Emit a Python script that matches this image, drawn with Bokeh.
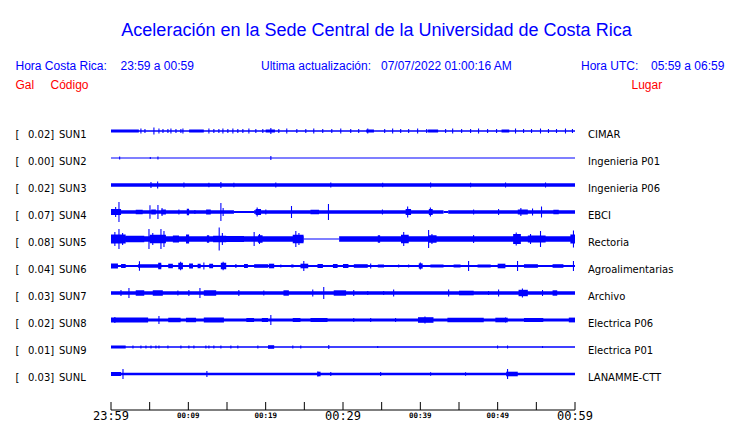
from bokeh.plotting import figure
from bokeh.models import Range1d, ColumnDataSource
from bokeh.core.properties import value
from bokeh.embed import file_html
from bokeh.resources import INLINE

# ---------------- data ----------------
CODES = ["SUN1", "SUN2", "SUN3", "SUN4", "SUN5", "SUN6", "SUN7", "SUN8", "SUN9", "SUNL"]
PLACES = ["CIMAR", "Ingenieria P01", "Ingenieria P06", "EBCI", "Rectoria",
          "Agroalimentarias", "Archivo", "Electrica P06", "Electrica P01", "LANAMME-CTT"]
GAL = [0.02, 0.00, 0.02, 0.07, 0.08, 0.04, 0.03, 0.02, 0.01, 0.03]

TICKS = [0, 5, 10, 15, 20, 25, 30, 35, 40, 45, 50, 55, 60]          # minutes after 23:59
BIG_TICK_POS = [0, 30, 60]
BIG_TICK_LABELS = ["23:59", "00:29", "00:59"]
SMALL_TICK_POS = [10, 20, 40, 50]
SMALL_TICK_LABELS = ["00:09", "00:19", "00:39", "00:49"]

TITLE = "Aceleración en la Sede Central de la Universidad de Costa Rica"
LOCAL_LABEL, LOCAL_RANGE = "Hora Costa Rica:", "23:59 a 00:59"
UPDATE_LABEL, UPDATE_TIME = "Ultima actualización:", "07/07/2022 01:00:16 AM"
UTC_LABEL, UTC_RANGE = "Hora UTC:", "05:59 a 06:59"

# envelopes: base (t0, t1, half-amplitude), bursts (t0, t1, half-amp), spikes (t, half-amp)
SUN1_BASE = [(0.0, 60.0, 0.8)]
SUN1_BURSTS = [(0.0, 3.6, 1.5), (10.1, 12.0, 1.5), (20.0, 21.2, 1.4), (33.0, 34.0, 1.4),
               (41.0, 42.3, 1.5), (50.5, 51.5, 1.4)]
SUN1_SPIKES = [(3.87, 2.5), (4.39, 2), (5.55, 3.5), (6.2, 2.5), (6.72, 2), (7.36, 2), (7.75, 2.5),
               (8.4, 2), (9.04, 2), (9.3, 2.5), (12.66, 2.5), (13.3, 2), (13.95, 2), (14.47, 2.5),
               (15.11, 2), (15.76, 2.5), (16.4, 2), (17.05, 2), (17.83, 2.5), (18.73, 2), (19.63, 2),
               (20.67, 3), (21.7, 2), (22.73, 2.5), (24.03, 2), (25.19, 2), (26.22, 2.5), (27.38, 2),
               (28.55, 2), (29.71, 2.5), (31.0, 2), (32.03, 2), (33.2, 2.5), (35.39, 2), (36.42, 2.5),
               (37.46, 2), (38.49, 2), (39.65, 2.5), (40.82, 2), (43.27, 2), (44.18, 2.5), (45.34, 2),
               (46.5, 2), (47.53, 2.5), (48.7, 2), (49.86, 2), (52.31, 2.5), (53.35, 2), (54.38, 2),
               (55.54, 2.5), (56.57, 2), (57.61, 2), (58.77, 2.5), (59.67, 2)]

SUN2_BASE = [(0.0, 60.0, 0.5)]
SUN2_BURSTS = []
SUN2_SPIKES = [(1.12, 1.5), (5.08, 1.0), (6.07, 1.5), (20.67, 2.0)]

SUN3_BASE = [(0.0, 60.0, 1.8)]
SUN3_BURSTS = []
SUN3_SPIKES = [(5.17, 3), (6.03, 3.5), (9.43, 2.5), (12.66, 2.3), (14.21, 3), (15.89, 2.3),
               (21.31, 2.5), (28.42, 2.5), (35.13, 2.3), (41.33, 2.5), (46.5, 2.3), (51.02, 2.5),
               (56.19, 2.5)]

SUN4_BASE = [(0.0, 15.9, 1.7), (15.9, 18.5, 1.0), (18.5, 43.0, 1.7), (43.0, 43.6, 1.0),
             (43.6, 60.0, 1.7)]
SUN4_BURSTS = [(0.0, 1.3, 3.0), (3.2, 4.1, 2.3), (5.2, 5.8, 2.6), (6.5, 7.1, 2.6), (9.8, 10.1, 3.2),
               (12.3, 12.9, 2.6), (18.7, 19.4, 3.0), (25.8, 26.9, 2.3), (38.1, 38.8, 3.0),
               (41.1, 41.6, 3.0), (52.6, 53.9, 2.6), (57.2, 57.9, 2.3)]
SUN4_SPIKES = [(0.6, 5), (1.03, 10), (5.04, 6.7), (6.07, 7), (6.6, 4), (8.78, 2.5), (10.85, 2),
               (14.21, 9), (14.5, 4), (20.02, 2.5), (18.9, 4.5), (23.34, 6), (28.12, 8), (35.1, 2.5),
               (38.36, 5.5), (41.3, 4.5), (46.89, 2.5), (50.12, 3), (53.0, 4), (54.51, 3.5),
               (55.67, 5.5)]

SUN5_BASE = [(0.0, 24.9, 2.7), (24.9, 29.5, 0.5), (29.5, 60.0, 2.7)]
SUN5_BURSTS = [(0.0, 1.9, 4.5), (1.9, 4.3, 3.3), (5.0, 7.1, 4.3), (8.0, 8.8, 3.5), (9.7, 10.1, 4.5),
               (12.4, 12.7, 3.8), (13.2, 14.9, 3.3), (14.5, 17.2, 3.1), (19.0, 19.6, 3.8),
               (23.5, 24.9, 4.3), (34.5, 34.8, 3.8), (37.5, 38.5, 4.3), (41.1, 42.1, 3.8),
               (52.0, 53.0, 5), (53.9, 56.2, 3.6), (59.4, 60.0, 4.5)]
SUN5_SPIKES = [(0.5, 7), (1.03, 10), (1.5, 6), (4.91, 10), (5.4, 6), (6.46, 10), (6.85, 8),
               (13.99, 11.5), (14.4, 6), (18.51, 7), (19.2, 5), (23.9, 8), (24.3, 6), (37.85, 7),
               (41.07, 9), (41.5, 5), (46.89, 4), (52.4, 6.5), (54.25, 5), (55.54, 8), (59.8, 8.5)]

SUN6_BASE = [(0.0, 60.0, 1.0)]
SUN6_BURSTS = [(0.0, 0.9, 2.5), (1.3, 1.9, 2), (3.5, 6.5, 1.8), (6.1, 6.5, 3.2), (7.4, 8.0, 2.3),
               (8.7, 9.3, 3.2), (10.1, 10.6, 2.6), (11.2, 11.6, 2.3), (12.7, 13.2, 2.3),
               (14.2, 14.9, 3.2), (17.2, 17.7, 2), (18.5, 20.3, 1.8), (20.4, 21.1, 2.3),
               (23.3, 23.6, 1.5), (24.5, 25.5, 2.3), (26.7, 27.4, 2), (28.7, 29.3, 2), (30.0, 30.7, 2),
               (31.4, 33.2, 1.8), (34.5, 35.3, 1.5), (39.8, 40.3, 2.6), (41.3, 43.0, 1.5),
               (44.3, 45.2, 1.5), (47.4, 49.1, 1.5), (50.0, 51.0, 2.3), (53.4, 55.2, 1.8),
               (57.1, 58.5, 1.8)]
SUN6_SPIKES = [(3.68, 4.7), (9.0, 4.2), (12.01, 3.5), (14.5, 4.2), (16.15, 2), (21.96, 1.5),
               (24.93, 5), (33.58, 2.5), (37.2, 1.5), (38.49, 1.5), (40.0, 3.5), (46.24, 5),
               (52.57, 5), (59.8, 5)]

SUN7_BASE = [(0.0, 60.0, 1.7)]
SUN7_BURSTS = [(3.2, 4.3, 2.7), (5.4, 6.7, 2.7), (12.0, 13.6, 2.7), (22.3, 23.0, 2.7),
               (28.8, 30.4, 2.7), (45.0, 46.9, 2.3), (52.7, 53.9, 3.2), (57.1, 57.7, 2.7)]
SUN7_SPIKES = [(1.29, 3), (2.32, 5), (8.65, 2.5), (10.07, 3), (11.5, 5), (16.53, 3), (19.76, 2.5),
               (26.09, 3.5), (27.51, 6), (31.39, 3), (33.2, 2), (35.26, 2), (36.55, 3.5),
               (43.66, 3.5), (48.82, 2), (50.12, 3.5), (53.2, 4.5), (55.8, 3)]

SUN8_BASE = [(0.0, 60.0, 1.5)]
SUN8_BURSTS = [(0.0, 4.8, 2.4), (7.4, 9.0, 2.3), (9.7, 11.0, 2.2), (12.0, 14.6, 2.4),
               (17.5, 18.5, 2), (19.5, 20.3, 2), (23.5, 24.5, 2), (25.8, 28.0, 2), (39.7, 41.7, 2.8),
               (43.5, 48.2, 2.3), (49.7, 51.3, 2.3), (53.4, 55.9, 2), (59.2, 60.0, 2.4)]
SUN8_SPIKES = [(0.5, 3), (6.2, 4), (20.67, 5), (31.39, 2), (33.58, 2), (36.8, 2), (40.6, 3.5),
               (51.02, 2.5)]

SUN9_BASE = [(0.0, 60.0, 0.7)]
SUN9_BURSTS = [(0.0, 1.9, 1.5), (20.3, 21.1, 1.8)]
SUN9_SPIKES = [(2.84, 1.5), (3.87, 1.5), (4.52, 1.5), (5.17, 1.5), (5.81, 1.5), (6.2, 1.5),
               (7.36, 1.5), (9.04, 1.5), (10.07, 1.5), (10.72, 1.5), (12.27, 1.5), (12.66, 1.5),
               (13.3, 1.5), (14.21, 1.5), (15.5, 1.5), (16.4, 1.5), (18.99, 1.5), (23.51, 1.5),
               (24.54, 1.5), (28.16, 2), (34.49, 1), (49.99, 1.5), (51.28, 1.5), (55.8, 1)]

SUNL_BASE = [(0.0, 60.0, 1.3)]
SUNL_BURSTS = [(0.0, 1.3, 2), (26.7, 27.1, 2.3), (51.1, 52.6, 2.3)]
SUNL_SPIKES = [(1.55, 5), (12.4, 3), (26.74, 2.5), (28.42, 2), (34.87, 2), (41.33, 1.8),
               (45.85, 1.8), (51.28, 5)]

TRACES = [(SUN1_BASE, SUN1_BURSTS, SUN1_SPIKES), (SUN2_BASE, SUN2_BURSTS, SUN2_SPIKES),
          (SUN3_BASE, SUN3_BURSTS, SUN3_SPIKES), (SUN4_BASE, SUN4_BURSTS, SUN4_SPIKES),
          (SUN5_BASE, SUN5_BURSTS, SUN5_SPIKES), (SUN6_BASE, SUN6_BURSTS, SUN6_SPIKES),
          (SUN7_BASE, SUN7_BURSTS, SUN7_SPIKES), (SUN8_BASE, SUN8_BURSTS, SUN8_SPIKES),
          (SUN9_BASE, SUN9_BURSTS, SUN9_SPIKES), (SUNL_BASE, SUNL_BURSTS, SUNL_SPIKES)]

# ---------------- layout ----------------
W, H = 740, 423
X0_PX, X1_PX = 110.5, 574.5        # px of minute 0 and minute 60
ROW0_PX, ROW_STEP = 130.5, 27.0    # px of first trace, spacing
AXIS_PX, TICK_TOP_PX = 409.5, 401.5
SPIKE_W = 0.14
BLUE, RED, BLACK = "#0000FF", "#FF0000", "#000000"


def fx(px):
    return (px - X0_PX) / (X1_PX - X0_PX) * 60.0


def fy(py):
    return (py - ROW0_PX) / ROW_STEP


p = figure(width=W, height=H, x_range=Range1d(fx(0), fx(W)),
           y_range=Range1d(fy(H), fy(0)), output_backend="svg",
           toolbar_location=None, min_border=0, x_axis_location=None, y_axis_location=None)
p.grid.visible = False
p.outline_line_color = None
p.background_fill_color = "white"
p.border_fill_color = "white"

# waveforms
left, right, bottom, top = [], [], [], []
for i, (base, bursts, spikes) in enumerate(TRACES):
    for t0, t1, a in list(base) + list(bursts):
        left.append(t0); right.append(t1)
        bottom.append(i - a / ROW_STEP); top.append(i + a / ROW_STEP)
    for t, a in spikes:
        left.append(max(0.0, t - SPIKE_W / 2)); right.append(min(60.0, t + SPIKE_W / 2))
        bottom.append(i - a / ROW_STEP); top.append(i + a / ROW_STEP)
p.quad(left="left", right="right", bottom="bottom", top="top",
       source=ColumnDataSource(dict(left=left, right=right, bottom=bottom, top=top)),
       fill_color=BLUE, line_color=None)

# time axis
p.segment(x0=[TICKS[0]], x1=[TICKS[-1]], y0=[fy(AXIS_PX)], y1=[fy(AXIS_PX)],
          line_color=BLACK, line_width=1)
p.segment(x0=TICKS, x1=TICKS, y0=[fy(TICK_TOP_PX)] * len(TICKS), y1=[fy(AXIS_PX)] * len(TICKS),
          line_color=BLACK, line_width=1)
p.text(x=BIG_TICK_POS, y=[fy(415.0)] * 3, text=BIG_TICK_LABELS,
       text_font=value("DejaVu Sans Mono"), text_font_size=value("12px"),
       text_color=BLACK, text_align="center", text_baseline="middle")
p.text(x=SMALL_TICK_POS, y=[fy(414.8)] * 4, text=SMALL_TICK_LABELS,
       text_font=value("DejaVu Sans Mono"), text_font_size=value("7.5px"), text_font_style="bold",
       text_color=BLACK, text_align="center", text_baseline="middle")

# station labels
rows = list(range(len(CODES)))
lab_y = [r + 3.8 / ROW_STEP for r in rows]
p.text(x=[fx(15)] * len(rows), y=lab_y, text=["["] * len(rows),
       text_font=value("DejaVu Sans"), text_font_size=value("10px"), text_color=BLACK,
       text_baseline="alphabetic")
p.text(x=[fx(27.5)] * len(rows), y=lab_y, text=["%.2f]" % g for g in GAL],
       text_font=value("DejaVu Sans"), text_font_size=value("10px"), text_color=BLACK,
       text_baseline="alphabetic")
p.text(x=[fx(58.5)] * len(rows), y=lab_y, text=CODES,
       text_font=value("DejaVu Sans"), text_font_size=value("10px"), text_color=BLACK,
       text_baseline="alphabetic")
p.text(x=[fx(587.5)] * len(rows), y=lab_y, text=PLACES,
       text_font=value("DejaVu Sans"), text_font_size=value("10px"), text_color=BLACK,
       text_baseline="alphabetic")

# title and header
p.text(x=[fx(376)], y=[fy(29.5)], text=[TITLE], text_font=value("Liberation Sans"),
       text_font_size=value("18px"), text_color=BLUE, text_align="center",
       text_baseline="alphabetic")
p.text(x=[fx(15), fx(120), fx(260.5), fx(380.5), fx(580.5), fx(650.5)], y=[fy(65)] * 6,
       text=[LOCAL_LABEL, LOCAL_RANGE, UPDATE_LABEL, UPDATE_TIME, UTC_LABEL, UTC_RANGE],
       text_font=value("Liberation Sans"), text_font_size=value("12px"), text_color=BLUE,
       text_baseline="alphabetic")
p.text(x=[fx(15), fx(50), fx(631)], y=[fy(84.3)] * 3, text=["Gal", "Código", "Lugar"],
       text_font=value("Liberation Sans"), text_font_size=value("12px"), text_color=RED,
       text_baseline="alphabetic")

open("out.html", "w").write(file_html(p, INLINE))
